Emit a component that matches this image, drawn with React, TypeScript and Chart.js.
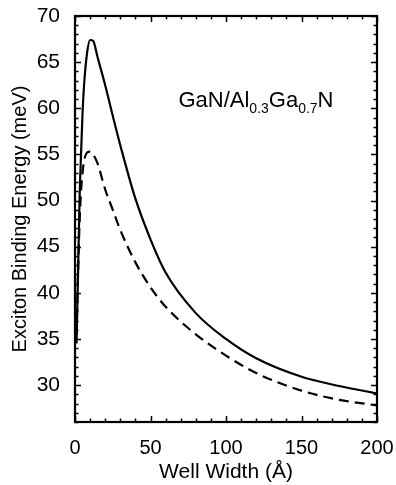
import React, { useEffect, useRef } from "react";
import { Chart, registerables } from "chart.js";

Chart.register(...registerables);

const wellWidths = [1, 2, 3, 4, 5, 6, 8, 10, 12, 15, 20, 25, 30, 40, 50, 60, 80, 100, 120, 150, 175, 200];
const solidEnergy = [34.5, 42, 50, 55, 59.5, 62.5, 66, 67.4, 67.3, 65.5, 62.5, 59.2, 56, 50.2, 45.8, 42.2, 37.8, 35.0, 32.9, 30.9, 29.9, 29.1];
const dashedEnergy = [35.5, 42, 47.5, 51, 53, 54.3, 55.2, 55.3, 55.0, 54.0, 51.2, 49.0, 46.8, 43.3, 40.6, 38.5, 35.5, 33.2, 31.3, 29.4, 28.4, 27.8];

const xTitle = "Well Width (Å)";
const yTitle = "Exciton Binding Energy (meV)";
const labelParts = [
  { text: "GaN/Al", sub: false },
  { text: "0.3", sub: true },
  { text: "Ga", sub: false },
  { text: "0.7", sub: true },
  { text: "N", sub: false },
];
const labelAt = { x: 68.5, y: 60.1 };

const FONT = "'Liberation Sans', Arial, Helvetica, sans-serif";

const framePlugin = {
  id: "frameTicks",
  afterDatasetsDraw(chart: any) {
    const { ctx, chartArea } = chart;
    const xs = chart.scales.x;
    const ys = chart.scales.y;
    const { left, right, top, bottom } = chartArea;
    ctx.save();
    ctx.strokeStyle = "#000";
    ctx.lineWidth = 1.5;
    ctx.beginPath();
    for (let v = 0; v <= 200; v += 10) {
      const px = Math.round(xs.getPixelForValue(v)) + 0.5;
      const len = v % 50 === 0 ? 6 : 3.5;
      ctx.moveTo(px, bottom);
      ctx.lineTo(px, bottom - len);
      ctx.moveTo(px, top);
      ctx.lineTo(px, top + len);
    }
    for (let v = 26; v <= 70; v += 1) {
      const py = Math.round(ys.getPixelForValue(v)) + 0.5;
      const len = v % 5 === 0 ? 6 : 3.5;
      ctx.moveTo(left, py);
      ctx.lineTo(left + len, py);
      ctx.moveTo(right, py);
      ctx.lineTo(right - len, py);
    }
    ctx.stroke();
    ctx.lineWidth = 2.2;
    ctx.strokeRect(left, top, right - left, bottom - top);

    // annotation
    let x = xs.getPixelForValue(labelAt.x);
    const y = ys.getPixelForValue(labelAt.y);
    ctx.fillStyle = "#000";
    ctx.textBaseline = "alphabetic";
    ctx.textAlign = "left";
    for (const p of labelParts) {
      ctx.font = p.sub ? `14px ${FONT}` : `22px ${FONT}`;
      ctx.fillText(p.text, x, p.sub ? y + 6 : y);
      x += ctx.measureText(p.text).width;
    }
    ctx.restore();
  },
};

export default function App() {
  const ref = useRef<HTMLCanvasElement>(null);
  useEffect(() => {
    if (!ref.current) return;
    Chart.defaults.font.family = FONT;
    Chart.defaults.color = "#000";
    const chart = new Chart(ref.current, {
      type: "line",
      data: {
        datasets: [
          {
            label: "solid",
            data: wellWidths.map((w, i) => ({ x: w, y: solidEnergy[i] })),
            borderColor: "#000",
            borderWidth: 2.2,
            pointRadius: 0,
            cubicInterpolationMode: "monotone",
            fill: false,
          },
          {
            label: "dashed",
            data: wellWidths.map((w, i) => ({ x: w, y: dashedEnergy[i] })),
            borderColor: "#000",
            borderWidth: 2.2,
            borderDash: [10, 6],
            pointRadius: 0,
            cubicInterpolationMode: "monotone",
            fill: false,
          },
        ],
      },
      options: {
        animation: false,
        responsive: false,
        layout: { padding: { top: 16, right: 19, left: 0, bottom: 0 } },
        plugins: { legend: { display: false }, tooltip: { enabled: false } },
        scales: {
          x: {
            type: "linear",
            min: 0,
            max: 200,
            grid: { display: false },
            border: { display: false },
            ticks: { stepSize: 50, includeBounds: false, font: { size: 20 }, padding: 6, maxRotation: 0 },
            title: { display: true, text: xTitle, font: { size: 21 }, padding: { top: 0, bottom: 0 } },
            afterFit: (s: any) => {
              s.height = 63;
              s.paddingLeft = 0;
              s.paddingRight = 0;
            },
          },
          y: {
            type: "linear",
            min: 26,
            max: 70,
            grid: { display: false },
            border: { display: false },
            ticks: { stepSize: 5, includeBounds: false, font: { size: 21 }, padding: 7 },
            title: { display: true, text: yTitle, font: { size: 20 }, padding: { top: 8, bottom: 0 } },
            afterFit: (s: any) => {
              s.width = 75;
              s.paddingTop = 0;
              s.paddingBottom = 0;
            },
          },
        },
      },
      plugins: [framePlugin],
    } as any);
    return () => chart.destroy();
  }, []);
  return (
    <div style={{ position: "fixed", left: 0, top: 0, width: 396, height: 485, background: "#fff" }}>
      <canvas ref={ref} width={396} height={485} />
    </div>
  );
}
